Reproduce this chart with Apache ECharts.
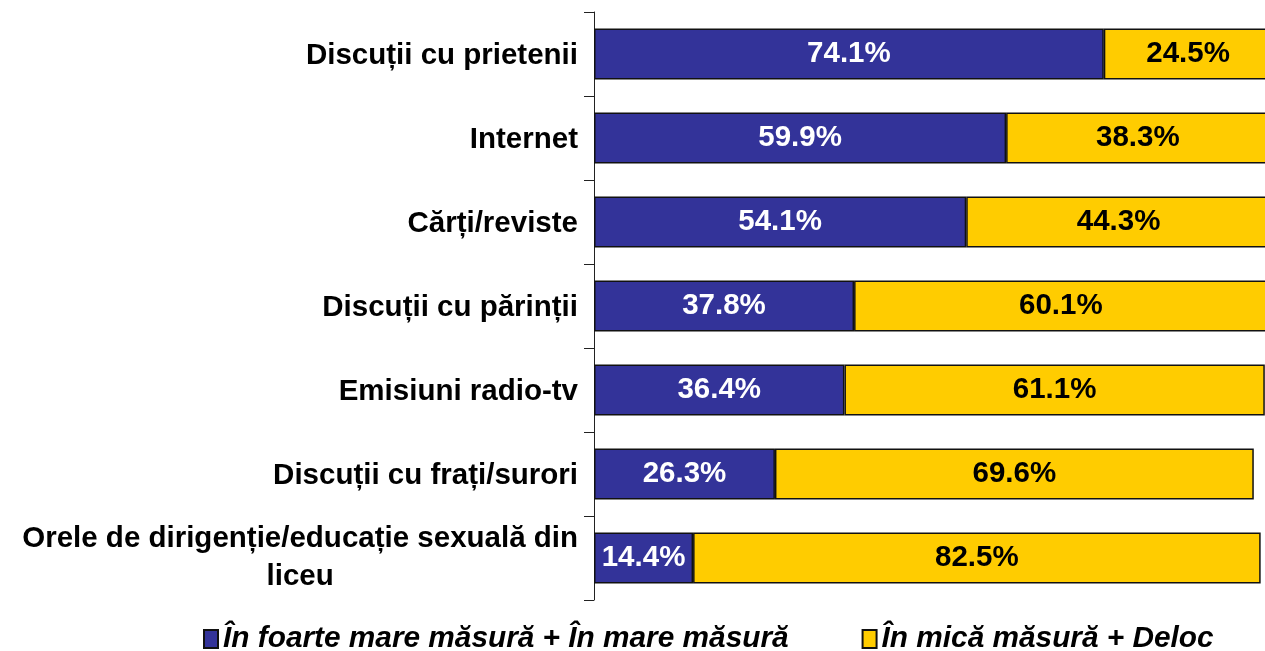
<!DOCTYPE html>
<html>
<head>
<meta charset="utf-8">
<script src="https://cdn.jsdelivr.net/npm/echarts@6/dist/echarts.min.js"></script>
<style>
  html, body { margin: 0; padding: 0; background: #fff; }
  #chart { width: 1265px; height: 651px; }
</style>
</head>
<body>
<div id="chart"></div>
<script>
// categorii (de sus in jos)
var categories = [
  'Discuții cu prietenii',
  'Internet',
  'Cărți/reviste',
  'Discuții cu părinții',
  'Emisiuni radio-tv',
  'Discuții cu frați/surori',
  'Orele de dirigenție/educație sexuală din liceu'
];
var seriesNames = ['În foarte mare măsură + În mare măsură', 'În mică măsură + Deloc'];
var highValues = [74.1, 59.9, 54.1, 37.8, 36.4, 26.3, 14.4];
var lowValues = [24.5, 38.3, 44.3, 60.1, 61.1, 69.6, 82.5];

var FONT = '"Liberation Sans", Arial, sans-serif';
var FS = 29.5;

var myChart = echarts.init(document.getElementById('chart'));

function pct(p) {
  return p.value.toFixed(1) + '%';
}

var option = {
  backgroundColor: '#fff',
  animation: false,
  grid: {
    left: 594,
    top: 12,
    width: 688,
    height: 588,
    containLabel: false,
    outerBoundsMode: 'none'
  },
  legend: {
    left: 203,
    top: 624,
    padding: 0,
    icon: 'rect',
    itemWidth: 14,
    itemHeight: 18,
    itemGap: 73,
    textStyle: {
      fontFamily: FONT,
      fontSize: 29.8,
      fontWeight: 'bold',
      fontStyle: 'italic',
      color: '#000'
    },
    data: seriesNames
  },
  xAxis: {
    type: 'value',
    min: 0,
    max: 100,
    show: false
  },
  yAxis: {
    type: 'category',
    inverse: true,
    data: categories,
    axisLine: { show: true, lineStyle: { color: '#222', width: 1 } },
    axisTick: { show: true, alignWithLabel: false, inside: false, length: 10, lineStyle: { color: '#222', width: 1 } },
    axisLabel: {
      margin: 16,
      interval: 0,
      formatter: function (v) {
        if (v.indexOf('Orele') === 0) {
          return '{c|Orele de dirigenție/educație sexuală din}\n{c|liceu}';
        }
        return '{r|' + v + '}';
      },
      rich: {
        c: { align: 'center', fontFamily: FONT, fontSize: FS, fontWeight: 'bold', color: '#000', lineHeight: 38 },
        r: { fontFamily: FONT, fontSize: FS, fontWeight: 'bold', color: '#000', padding: [4, 0, 0, 0] }
      }
    }
  },
  series: [{
    name: seriesNames[0],
    type: 'bar',
    stack: 'total',
    barCategoryGap: '39%',
    itemStyle: { color: '#333399', borderColor: '#111', borderWidth: 1.5 },
    label: {
      show: true,
      position: 'inside',
      formatter: pct,
      color: '#fff',
      fontFamily: FONT,
      fontSize: FS,
      fontWeight: 'bold',
      padding: [4, 0, 0, 0]
    },
    data: highValues
  }, {
    name: seriesNames[1],
    type: 'bar',
    stack: 'total',
    itemStyle: { color: '#FFCC00', borderColor: '#111', borderWidth: 1.5 },
    label: {
      show: true,
      position: 'inside',
      formatter: pct,
      color: '#000',
      fontFamily: FONT,
      fontSize: FS,
      fontWeight: 'bold',
      padding: [4, 0, 0, 0]
    },
    data: lowValues
  }]
};

myChart.setOption(option);
</script>
</body>
</html>
